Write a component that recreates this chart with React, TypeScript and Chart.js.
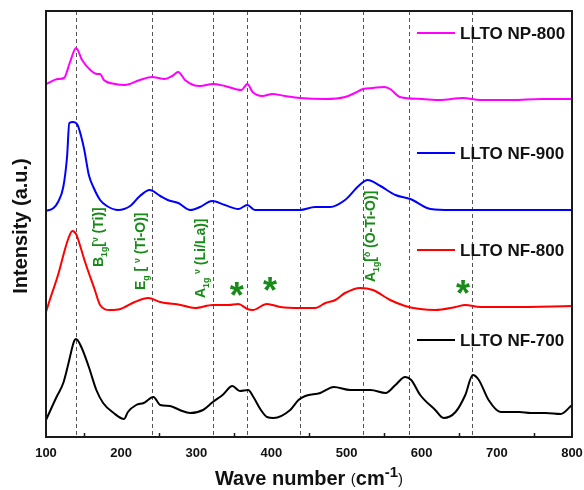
import React, { useEffect, useRef } from "react";
import { Chart, registerables } from "chart.js";

Chart.register(...registerables);

// ---------- data (wave number in cm-1, intensity in arbitrary units) ----------
const np800Wave = [100, 116, 124, 132, 140, 148, 159, 168, 172, 177, 192, 205, 225, 241, 258, 268, 276, 285, 296, 305, 322, 338, 360, 368, 375, 388, 401, 418, 438, 472, 498, 511, 522, 535, 550, 558, 571, 600, 624, 655, 678, 720, 760, 800];
const np800Int = [353, 358, 359, 375, 389, 377, 367, 363, 363, 357, 353, 352, 357, 360, 358, 361, 365, 357, 352, 351, 353, 351, 347, 353, 345, 341, 343, 341, 339, 338, 340, 344, 348, 349, 350, 348, 340, 338, 337, 339, 337, 337, 338, 338];

const nf900Wave = [100, 110, 116, 123, 128, 131, 136, 142, 147, 151, 157, 163, 172, 181, 196, 212, 225, 238, 252, 262, 276, 292, 305, 321, 338, 356, 368, 378, 438, 458, 478, 498, 516, 528, 545, 565, 585, 612, 639, 700, 800];
const nf900Int = [226, 229, 235, 250, 280, 314, 315, 312, 300, 287, 262, 250, 237, 231, 227, 231, 241, 247, 241, 237, 234, 227, 230, 236, 232, 228, 232, 227, 227, 230, 230, 237, 251, 257, 251, 242, 238, 228, 227, 227, 227];

const nf800Wave = [100, 105, 116, 125, 130, 135, 140, 143, 152, 165, 172, 185, 199, 218, 236, 252, 279, 298, 322, 343, 356, 368, 375, 394, 412, 438, 458, 472, 485, 498, 518, 535, 558, 578, 598, 618, 645, 658, 678, 720, 800];
const nf800Int = [125, 137, 162, 187, 199, 206, 203, 197, 175, 147, 132, 127, 128, 135, 139, 135, 132, 129, 132, 132, 133, 128, 127, 133, 130, 129, 129, 134, 137, 144, 149, 147, 137, 131, 128, 127, 130, 132, 130, 130, 131];

const nf700Wave = [100, 114, 123, 130, 137, 140, 147, 157, 167, 176, 190, 204, 209, 220, 230, 243, 252, 265, 278, 292, 309, 322, 335, 348, 358, 369, 376, 386, 394, 403, 425, 436, 445, 465, 483, 505, 532, 552, 565, 578, 586, 598, 618, 629, 645, 658, 668, 676, 689, 705, 730, 745, 765, 785, 800];
const nf700Int = [17, 40, 54, 74, 95, 98, 90, 70, 47, 34, 24, 18, 25, 32, 34, 40, 32, 31, 27, 24, 27, 35, 42, 51, 46, 47, 40, 27, 20, 19, 27, 37, 41, 44, 50, 47, 47, 44, 52, 60, 57, 42, 27, 19, 25, 42, 62, 57, 37, 25, 25, 24, 24, 23, 32];

const seriesLabels = ["LLTO NP-800", "LLTO NF-900", "LLTO NF-800", "LLTO NF-700"];
const seriesColors = ["#ff00ff", "#0000ff", "#ff0000", "#000000"];

const xTickValues = [100, 200, 300, 400, 500, 600, 700, 800];
const xMinorTicks = [150, 250, 350, 450, 550, 650, 750];
const refLines = [140, 241, 322, 368, 438, 522, 583, 667];

// Peak assignments (wave number anchor, intensity at text bottom)
const annotWave = [169, 225, 305, 531];
const annotBase = [170, 147, 139, 155];
const starWave = [354, 398, 655];
const starInt = [149, 154, 151];

const X_MIN = 100;
const X_MAX = 800;
const Y_MIN = 0;
const Y_MAX = 426;

const GREEN = "#178a17";
const FONT = "Arial, 'Liberation Sans', sans-serif";

type Seg = { t: string; k?: "sub" | "sup" };

const annotTexts: Seg[][] = [
  [{ t: "B" }, { t: "1g", k: "sub" }, { t: "[" }, { t: "ν", k: "sup" }, { t: " (Ti)]" }],
  [{ t: "E" }, { t: "g", k: "sub" }, { t: " [ " }, { t: "ν", k: "sup" }, { t: " (Ti-O)]" }],
  [{ t: "A" }, { t: "1g", k: "sub" }, { t: " " }, { t: "ν", k: "sup" }, { t: " (Li/La)]" }],
  [{ t: "A" }, { t: "1g", k: "sub" }, { t: "[" }, { t: "δ", k: "sup" }, { t: " (O-Ti-O)]" }],
];

function drawSegs(ctx: CanvasRenderingContext2D, segs: Seg[], size: number) {
  let x = 0;
  for (const s of segs) {
    const fs = s.k ? size * 0.62 : size;
    ctx.font = `bold ${fs}px ${FONT}`;
    const dy = s.k === "sub" ? size * 0.28 : s.k === "sup" ? -size * 0.38 : 0;
    ctx.fillText(s.t, x, dy);
    x += ctx.measureText(s.t).width;
  }
  return x;
}

const decorPlugin = {
  id: "decor",
  beforeDatasetsDraw(chart: any) {
    const { ctx, chartArea: a, scales } = chart;
    const xs = scales.x;
    ctx.save();
    ctx.setLineDash([4, 3]);
    ctx.strokeStyle = "#555";
    ctx.lineWidth = 1;
    refLines.forEach((v) => {
      const px = Math.round(xs.getPixelForValue(v)) + 0.5;
      ctx.beginPath();
      ctx.moveTo(px, a.top);
      ctx.lineTo(px, a.bottom);
      ctx.stroke();
    });
    ctx.restore();
  },
  afterDraw(chart: any) {
    const { ctx, chartArea: a, scales } = chart;
    const xs = scales.x;
    const ys = scales.y;
    ctx.save();

    // frame
    ctx.strokeStyle = "#1a1a1a";
    ctx.lineWidth = 2;
    ctx.strokeRect(a.left, a.top, a.right - a.left, a.bottom - a.top);

    // minor ticks (inward)
    ctx.lineWidth = 1.5;
    xMinorTicks.forEach((v) => {
      const px = Math.round(xs.getPixelForValue(v)) + 0.5;
      ctx.beginPath();
      ctx.moveTo(px, a.bottom);
      ctx.lineTo(px, a.bottom - 4);
      ctx.stroke();
    });

    // tick labels
    ctx.fillStyle = "#111";
    ctx.font = `bold 13px ${FONT}`;
    ctx.textAlign = "center";
    ctx.textBaseline = "alphabetic";
    xTickValues.forEach((v) => {
      ctx.fillText(String(v), xs.getPixelForValue(v), a.bottom + 20);
    });

    // x title
    const parts = [
      { t: "Wave number ", f: `bold 20px ${FONT}`, dy: 0 },
      { t: "(", f: `15px ${FONT}`, dy: -1 },
      { t: "cm", f: `bold 20px ${FONT}`, dy: 0 },
      { t: "-1", f: `bold 15px ${FONT}`, dy: -8 },
      { t: ")", f: `15px ${FONT}`, dy: -1 },
    ];
    ctx.textAlign = "left";
    let total = 0;
    parts.forEach((p) => {
      ctx.font = p.f;
      total += ctx.measureText(p.t).width;
    });
    let tx = (a.left + a.right) / 2 - total / 2;
    const tb = a.bottom + 48;
    parts.forEach((p) => {
      ctx.font = p.f;
      ctx.fillText(p.t, tx, tb + p.dy);
      tx += ctx.measureText(p.t).width;
    });

    // y title
    ctx.save();
    ctx.translate(a.left - 19, (a.top + a.bottom) / 2 + 2);
    ctx.rotate(-Math.PI / 2);
    ctx.textAlign = "center";
    ctx.font = `bold 20px ${FONT}`;
    ctx.fillText("Intensity (a.u.)", 0, 0);
    ctx.restore();

    // legend (custom, right side, next to each trace)
    const legendY = [33, 153, 250, 340];
    ctx.font = `bold 17px ${FONT}`;
    ctx.textAlign = "left";
    ctx.textBaseline = "middle";
    seriesLabels.forEach((lab, i) => {
      const y = legendY[i];
      ctx.strokeStyle = seriesColors[i];
      ctx.lineWidth = 2;
      ctx.beginPath();
      ctx.moveTo(417, y);
      ctx.lineTo(455, y);
      ctx.stroke();
      ctx.fillStyle = "#111";
      ctx.fillText(lab, 460, y + 1);
    });

    // rotated peak assignments
    ctx.fillStyle = GREEN;
    ctx.textBaseline = "alphabetic";
    ctx.textAlign = "left";
    const size = 14;
    annotTexts.forEach((segs, i) => {
      const cx = xs.getPixelForValue(annotWave[i]);
      const by = ys.getPixelForValue(annotBase[i]);
      ctx.save();
      ctx.translate(cx + size * 0.36, by);
      ctx.rotate(-Math.PI / 2);
      drawSegs(ctx, segs, size);
      ctx.restore();
    });

    // asterisks
    const ss = 36;
    ctx.font = `bold ${ss}px ${FONT}`;
    ctx.textAlign = "center";
    starWave.forEach((w, i) => {
      const cx = xs.getPixelForValue(w);
      const cy = ys.getPixelForValue(starInt[i]);
      ctx.fillText("*", cx, cy + ss * 0.55);
    });

    ctx.restore();
  },
};

function toPts(xs: number[], ys: number[]) {
  return xs.map((x, i) => ({ x, y: ys[i] }));
}

export default function App() {
  const ref = useRef<HTMLCanvasElement | null>(null);
  useEffect(() => {
    document.body.style.margin = "0";
    const canvas = ref.current;
    if (!canvas) return;
    const waves = [np800Wave, nf900Wave, nf800Wave, nf700Wave];
    const ints = [np800Int, nf900Int, nf800Int, nf700Int];
    const chart = new Chart(canvas, {
      type: "line",
      data: {
        datasets: seriesLabels.map((label, i) => ({
          label,
          data: toPts(waves[i], ints[i]),
          borderColor: seriesColors[i],
          backgroundColor: seriesColors[i],
          borderWidth: 2,
          pointRadius: 0,
          fill: false,
          cubicInterpolationMode: "monotone" as const,
        })),
      },
      options: {
        responsive: false,
        animation: false,
        devicePixelRatio: 1,
        layout: { padding: { left: 46, right: 12, top: 11, bottom: 53 } },
        plugins: { legend: { display: false }, tooltip: { enabled: false } },
        scales: {
          x: { type: "linear", min: X_MIN, max: X_MAX, display: false },
          y: { type: "linear", min: Y_MIN, max: Y_MAX, display: false },
        },
      },
      plugins: [decorPlugin],
    });
    return () => chart.destroy();
  }, []);
  return (
    <div style={{ width: 584, height: 490, background: "#fff" }}>
      <canvas ref={ref} width={584} height={490} style={{ display: "block" }} />
    </div>
  );
}
